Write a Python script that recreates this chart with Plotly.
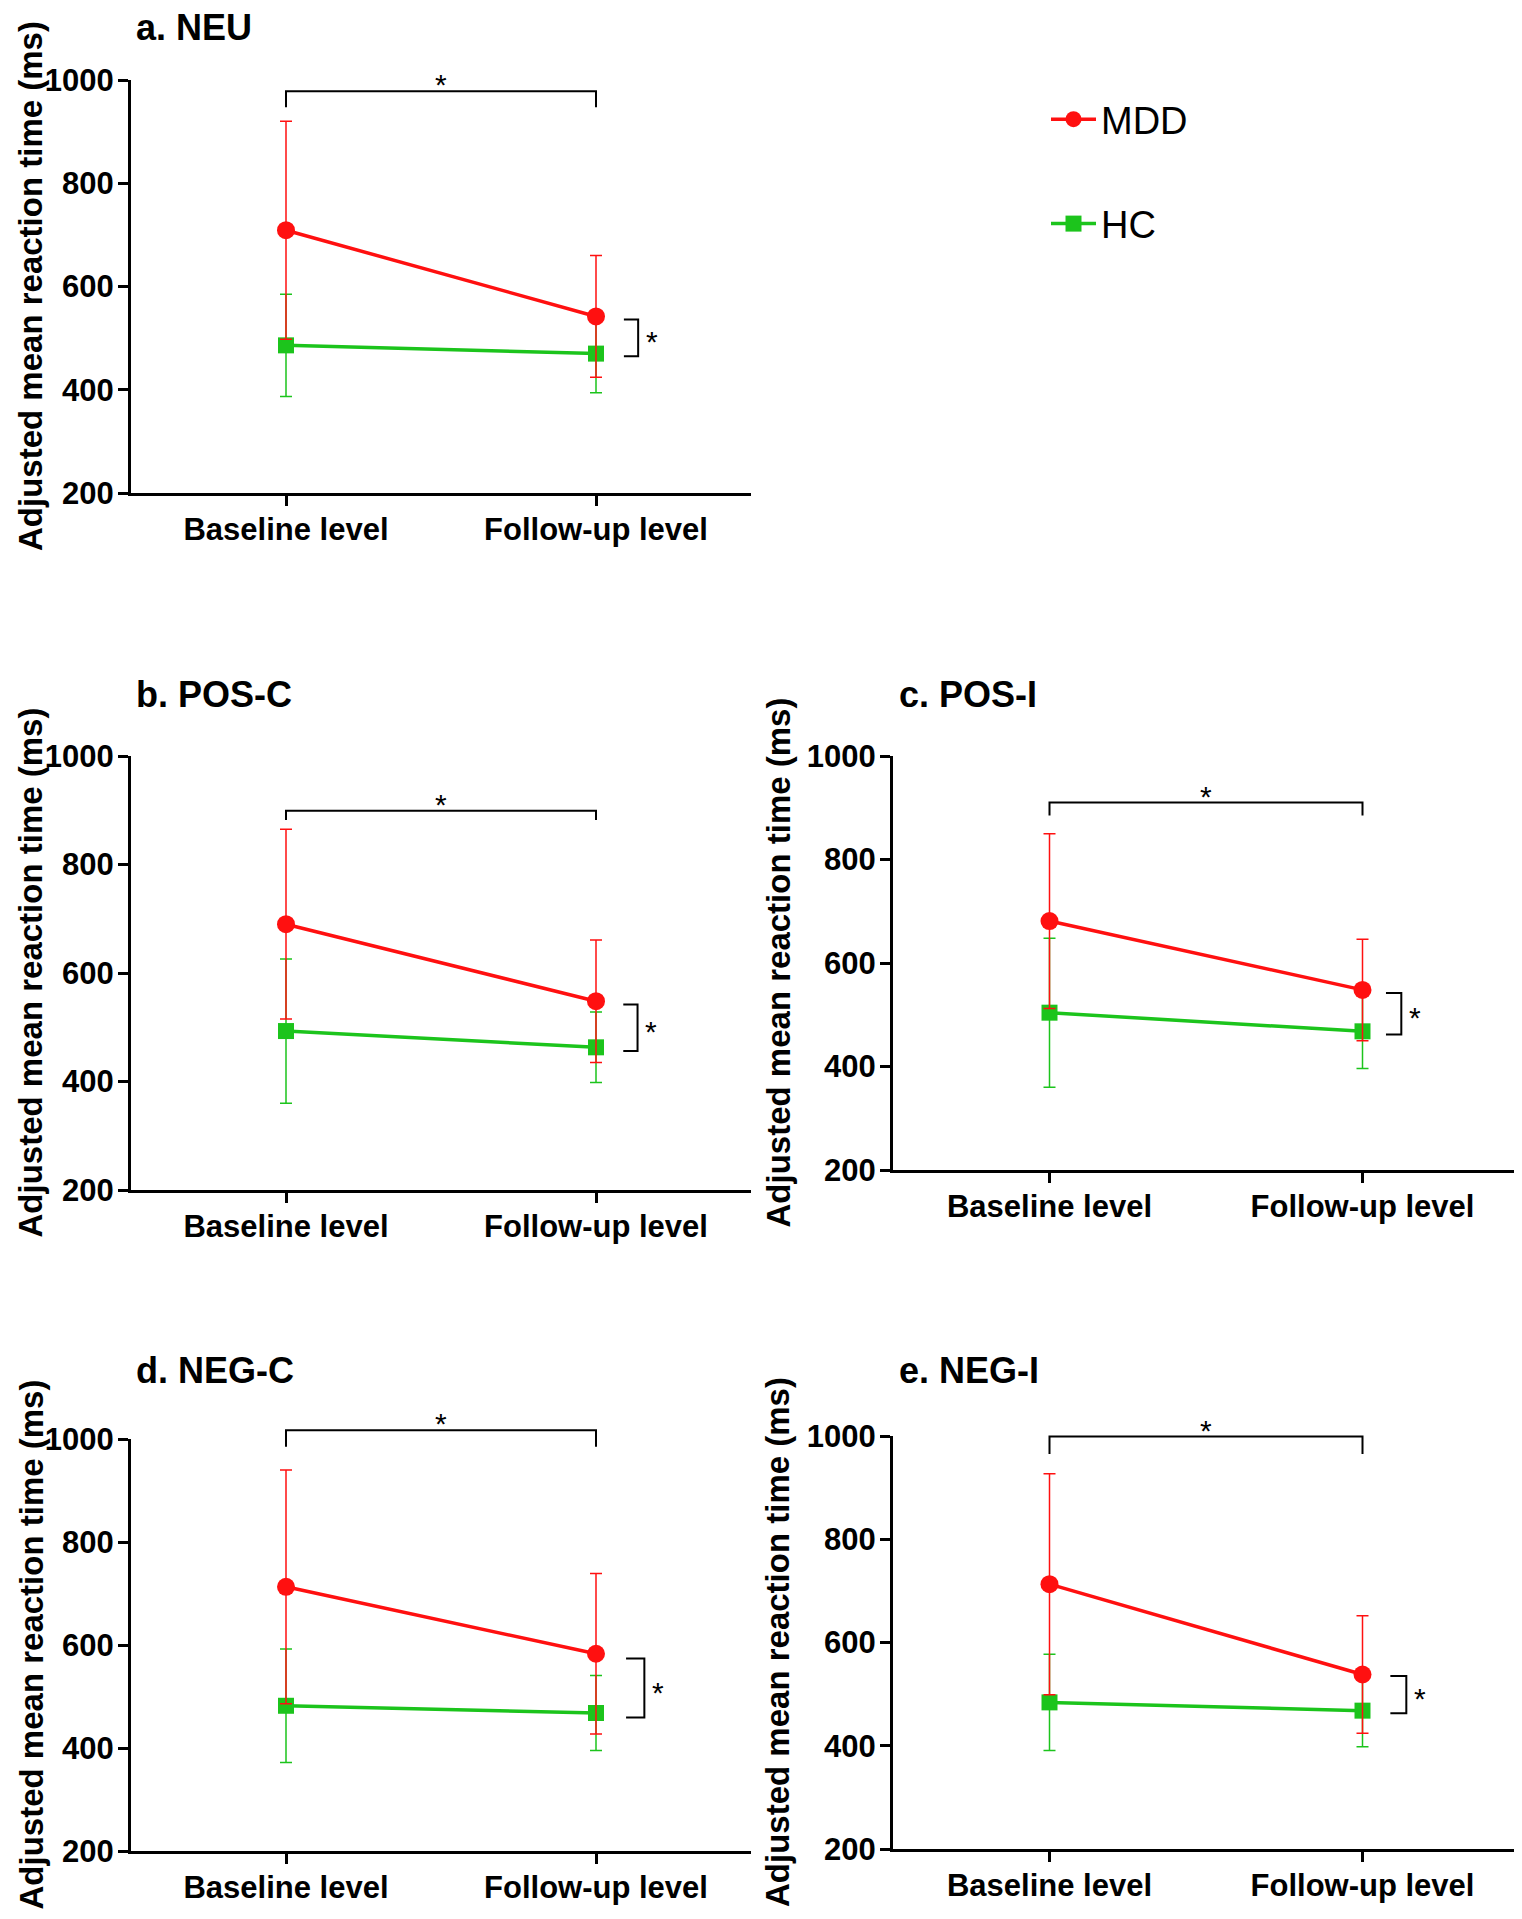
import plotly.graph_objects as go

# ---------------- data ----------------
categories = ["Baseline level", "Follow-up level"]
panel_titles = ["a. NEU", "b. POS-C", "c. POS-I", "d. NEG-C", "e. NEG-I"]
y_ticks = [200, 400, 600, 800, 1000]

mdd_neu = [709, 542]
mdd_neu_sd = [211, 118]
hc_neu = [486, 470]
hc_neu_sd = [99, 76]

mdd_posc = [690, 548]
mdd_posc_sd = [175, 113]
hc_posc = [493, 463]
hc_posc_sd = [133, 65]

mdd_posi = [681, 548]
mdd_posi_sd = [169, 98]
hc_posi = [504, 468]
hc_posi_sd = [144, 72]

mdd_negc = [713, 583]
mdd_negc_sd = [227, 156]
hc_negc = [482, 468]
hc_negc_sd = [110, 73]

mdd_negi = [713, 538]
mdd_negi_sd = [214, 114]
hc_negi = [484, 468]
hc_negi_sd = [93, 70]

# significance brackets (values in ms)
top_bracket_y = [978, 899, 910, 1017, 999]
top_bracket_leg = [947, 882, 885, 985, 965]
side_bracket_top = [536, 542, 542, 574, 535]
side_bracket_bottom = [465, 456, 462, 459, 463]

# ---------------- styling / layout ----------------
W, H = 1522, 1919
OFF = 8  # page body margin of the html page
RED = "#FF1010"
GREEN = "#1CC41C"
FONT = "Liberation Sans, Arial, sans-serif"

# pixel boxes (page px) of the plotting areas: (x_left, x_right, y_top(1000), y_bottom(200))
boxes = [
    (131, 751, 80, 493),
    (131, 751, 756, 1190),
    (893, 1519, 756, 1170),
    (131, 751, 1439, 1851),
    (893, 1519, 1436, 1849),
]
title_pos = [(134, 27), (134, 694), (897, 694), (134, 1370), (897, 1370)]
ytitle_x = [10, 10, 757, 10, 757]
side_x = [(1.09, 1.136), (1.088, 1.134), (1.075, 1.124), (1.097, 1.156), (1.089, 1.14)]

mdd_sets = [(mdd_neu, mdd_neu_sd), (mdd_posc, mdd_posc_sd), (mdd_posi, mdd_posi_sd),
            (mdd_negc, mdd_negc_sd), (mdd_negi, mdd_negi_sd)]
hc_sets = [(hc_neu, hc_neu_sd), (hc_posc, hc_posc_sd), (hc_posi, hc_posi_sd),
           (hc_negc, hc_negc_sd), (hc_negi, hc_negi_sd)]

X_RANGE = [-0.5, 1.5]
Y_RANGE = [200, 1000]


def px(x):
    return (x - OFF) / W


def py(y):
    return 1 - (y - OFF) / H


def xfrac(v):
    return (v - X_RANGE[0]) / (X_RANGE[1] - X_RANGE[0])


def yfrac(v):
    return (v - Y_RANGE[0]) / (Y_RANGE[1] - Y_RANGE[0])


fig = go.Figure()
layout = dict(
    width=W, height=H,
    margin=dict(l=0, r=0, t=0, b=0, pad=0, autoexpand=False),
    paper_bgcolor="white", plot_bgcolor="white",
    font=dict(family=FONT, color="black"),
    showlegend=True,
    legend=dict(x=px(1046), y=py(88), xanchor="left", yanchor="top",
                font=dict(family=FONT, size=38, color="black"),
                tracegroupgap=52, itemwidth=45, bgcolor="rgba(0,0,0,0)"),
)
shapes = []
annotations = []

for i in range(5):
    n = "" if i == 0 else str(i + 1)
    xa, ya = "x" + n, "y" + n
    xl, xr, yt, yb = boxes[i]
    layout["xaxis" + n] = dict(
        domain=[px(xl), px(xr)], anchor=ya, type="category",
        range=X_RANGE, showgrid=False, zeroline=False, automargin=False,
        showline=True, linewidth=3, linecolor="black",
        ticks="outside", ticklen=10, tickwidth=3, tickcolor="black",
        tickfont=dict(family=FONT, size=31, color="black", weight="bold"),
        ticklabelstandoff=-3,
    )
    layout["yaxis" + n] = dict(
        domain=[py(yb), py(yt)], anchor=xa, automargin=False,
        range=Y_RANGE, tickvals=y_ticks, showgrid=False, zeroline=False,
        showline=True, linewidth=3, linecolor="black",
        ticks="outside", ticklen=10, tickwidth=3, tickcolor="black",
        tickfont=dict(family=FONT, size=31, color="black", weight="bold"),
        ticklabelstandoff=-2,
    )

    hc, hc_sd = hc_sets[i]
    mdd, mdd_sd = mdd_sets[i]
    fig.add_trace(go.Scatter(
        x=categories, y=hc, xaxis=xa, yaxis=ya, name="HC",
        mode="lines+markers", legendgroup="HC", showlegend=(i == 0),
        legendrank=2,
        line=dict(color=GREEN, width=3.5),
        marker=dict(symbol="square", size=16, color=GREEN),
        error_y=dict(type="data", array=hc_sd, visible=True, color=GREEN,
                     thickness=1.5, width=6),
    ))
    fig.add_trace(go.Scatter(
        x=categories, y=mdd, xaxis=xa, yaxis=ya, name="MDD",
        mode="lines+markers", legendgroup="MDD", showlegend=(i == 0),
        legendrank=1,
        line=dict(color=RED, width=3.5),
        marker=dict(symbol="circle", size=18, color=RED),
        error_y=dict(type="data", array=mdd_sd, visible=True, color=RED,
                     thickness=1.5, width=6),
    ))

    xd, yd = xa + " domain", ya + " domain"
    # top bracket between baseline and follow-up
    tb, tl = top_bracket_y[i], top_bracket_leg[i]
    path = "M {a},{b} L {a},{c} L {d},{c} L {d},{b}".format(
        a=xfrac(0), b=yfrac(tl), c=yfrac(tb), d=xfrac(1))
    shapes.append(dict(type="path", xref=xd, yref=yd, path=path,
                       line=dict(color="black", width=2)))
    annotations.append(dict(xref=xd, yref=yd, x=xfrac(0.5), y=yfrac(tb),
                            text="*", showarrow=False, yanchor="bottom",
                            yshift=-12,
                            font=dict(family=FONT, size=30, color="black")))
    # side bracket between groups at follow-up
    s0, s1 = side_x[i]
    st, sb = side_bracket_top[i], side_bracket_bottom[i]
    path = "M {a},{b} L {d},{b} L {d},{c} L {a},{c}".format(
        a=xfrac(s0), b=yfrac(st), c=yfrac(sb), d=xfrac(s1))
    shapes.append(dict(type="path", xref=xd, yref=yd, path=path,
                       line=dict(color="black", width=2)))
    annotations.append(dict(xref=xd, yref=yd, x=xfrac(s1 + 0.045),
                            y=yfrac((st + sb) / 2), text="*", showarrow=False,
                            xanchor="center", yanchor="middle", yshift=-4,
                            font=dict(family=FONT, size=30, color="black")))

    # panel title
    tx, ty = title_pos[i]
    annotations.append(dict(xref="paper", yref="paper", x=px(tx), y=py(ty),
                            text=panel_titles[i], showarrow=False,
                            xanchor="left", yanchor="middle",
                            font=dict(family=FONT, size=36, color="black",
                                      weight="bold")))
    # y-axis title
    annotations.append(dict(xref="paper", yref="paper", x=px(ytitle_x[i]),
                            y=py((yt + yb) / 2),
                            text="Adjusted mean reaction time (ms)",
                            showarrow=False, textangle=-90,
                            xanchor="left", yanchor="middle",
                            font=dict(family=FONT, size=33, color="black",
                                      weight="bold")))

layout["shapes"] = shapes
layout["annotations"] = annotations
fig.update_layout(**layout)
fig.write_html("out.html")
